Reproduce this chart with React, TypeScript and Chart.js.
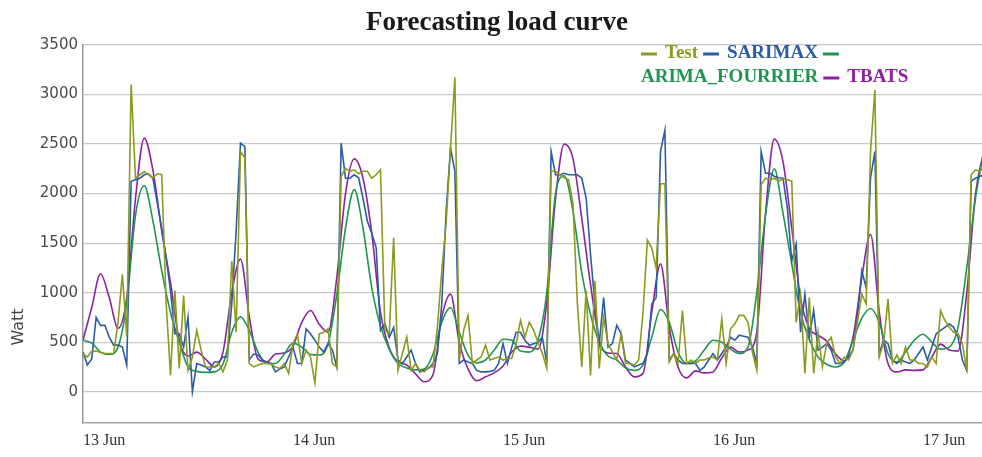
import React, { useEffect, useRef } from "react";
import { Chart, registerables } from "chart.js";

Chart.register(...registerables);

const chartTitle = "Forecasting load curve";
const yAxisTitle = "Watt";
const dayLabels = ["13 Jun", "14 Jun", "15 Jun", "16 Jun", "17 Jun"];
const dayTickHours = [0, 24, 48, 72, 96];
const yTickValues = [0, 500, 1000, 1500, 2000, 2500, 3000, 3500];
const seriesNames = ["Test", "SARIMAX", "ARIMA_FOURRIER", "TBATS"];
const seriesColors = ["#8c9a1e", "#2c5ba8", "#1e9652", "#8c22a0"];
const hoursShown = 102.74;
const yMin = -316;
const yMax = 3500;

// half-hourly values starting 13 Jun 00:00
const testValues = [
  385, 350, 410, 410, 395, 385, 385, 385, 700, 1185, 560, 3100,
  2155, 2190, 2220, 2190, 2160, 2200, 2190, 900, 165, 1020, 235, 970,
  215, 350, 620, 420, 250, 250, 250, 285, 200, 320, 1320, 600,
  2425, 2360, 285, 250, 270, 285, 285, 280, 250, 235, 285, 185,
  485, 585, 285, 420, 350, 90, 585, 600, 635, 285, 250, 2175,
  2255, 2225, 2240, 2200, 2225, 2225, 2155, 2190, 2240, 620, 585, 1555,
  215, 385, 550, 215, 285, 215, 200, 250, 250, 650, 1220, 1700,
  2460, 3175, 320, 620, 770, 285, 320, 350, 470, 320, 335, 350,
  320, 335, 335, 485, 720, 550, 700, 620, 500, 385, 235, 2225,
  2225, 2190, 2160, 2140, 1900, 885, 250, 1020, 165, 1120, 235, 750,
  485, 400, 320, 585, 285, 285, 270, 320, 800, 1530, 1450, 1250,
  2100, 2100, 300, 385, 285, 820, 285, 320, 285, 320, 320, 340,
  350, 320, 735, 285, 635, 685, 770, 770, 700, 400, 215, 2090,
  2155, 2140, 2155, 2125, 2150, 2140, 2125, 700, 985, 185, 950, 185,
  600, 250, 485, 550, 350, 285, 350, 320, 420, 700, 985, 885,
  2425, 3045, 350, 500, 935, 285, 370, 285, 450, 320, 320, 285,
  285, 250, 350, 285, 820, 720, 650, 600, 585, 485, 215, 2190,
  2240, 2225, 2260,
];

// half-hourly values
const sarimaxValues = [
  400, 270, 330, 750, 670, 670, 550, 470, 470, 450, 270, 2125,
  2140, 2155, 2190, 2200, 2150, 1900, 1650, 1350, 1020, 585, 585, 450,
  750, 0, 285, 270, 250, 215, 300, 300, 350, 350, 885, 1620,
  2510, 2475, 320, 380, 370, 320, 300, 285, 200, 230, 250, 350,
  450, 285, 285, 635, 585, 520, 450, 400, 485, 420, 250, 2510,
  2155, 2155, 2190, 2160, 1950, 1720, 1600, 1455, 620, 685, 550, 650,
  320, 285, 350, 420, 285, 200, 220, 235, 285, 385, 885, 1820,
  2460, 2225, 285, 320, 300, 285, 215, 200, 200, 205, 215, 285,
  485, 285, 450, 600, 600, 520, 470, 485, 500, 550, 285, 2425,
  2190, 2190, 2205, 2190, 2190, 2190, 2155, 1955, 1390, 885, 485, 950,
  450, 485, 670, 585, 320, 285, 250, 270, 285, 385, 885, 950,
  2425, 2640, 320, 385, 320, 285, 285, 285, 285, 215, 250, 320,
  385, 320, 385, 450, 550, 520, 570, 560, 550, 450, 285, 2425,
  2205, 2205, 2175, 2160, 2155, 1850, 1320, 1490, 600, 985, 550, 820,
  420, 450, 485, 420, 285, 285, 300, 350, 420, 750, 1220, 1050,
  2155, 2425, 385, 520, 485, 320, 285, 320, 300, 285, 320, 385,
  450, 320, 450, 585, 620, 650, 685, 650, 550, 320, 215, 2125,
  2155, 2175, 2190,
];

// hourly values
const arimaValues = [
  520, 490, 400, 375, 450, 900, 1780, 2080, 1720, 1220, 800, 500,
  250, 205, 195, 200, 280, 600, 755, 620, 400, 285, 285, 380,
  490, 450, 375, 370, 480, 980, 1650, 2040, 1650, 1050, 660, 430,
  285, 240, 220, 230, 380, 700, 850, 600, 370, 290, 320, 420,
  530, 520, 410, 400, 520, 1000, 2000, 2180, 1820, 1200, 780, 500,
  360, 320, 240, 215, 270, 550, 830, 700, 400, 285, 310, 420,
  520, 500, 430, 385, 450, 1000, 1780, 2250, 1800, 1290, 800, 530,
  350, 275, 250, 300, 520, 740, 840, 700, 385, 300, 400, 520,
  580, 500, 430, 450, 650, 1250, 1955, 2450,
];

// hourly values
const tbatsValues = [
  520, 850, 1190, 950, 640, 950, 1950, 2560, 2230, 1620, 1100, 520,
  360, 400, 330, 250, 400, 1000, 1340, 760, 330, 300, 380, 390,
  460, 700, 820, 680, 600, 1150, 2000, 2350, 2155, 1600, 800, 440,
  300, 270, 180, 100, 170, 750, 985, 500, 230, 110, 150, 190,
  260, 400, 460, 450, 430, 900, 1950, 2500, 2350, 1750, 1085, 520,
  390, 385, 250, 150, 185, 800, 1290, 650, 250, 140, 210, 190,
  200, 340, 450, 400, 420, 600, 1800, 2550, 2320, 1650, 950, 640,
  570, 510, 380, 310, 550, 1150, 1590, 800, 285, 200, 220, 215,
  220, 350, 480, 420, 410, 1000, 2000, 2450,
];

const toPoints = (vals: number[], step: number) => vals.map((v, i) => ({ x: i * step, y: v }));

const overlayPlugin = {
  id: "overlayText",
  afterDraw(chart: any) {
    const ctx = chart.ctx as CanvasRenderingContext2D;
    ctx.save();
    // title
    ctx.fillStyle = "#1a1a1a";
    ctx.font = 'bold 27px "Liberation Serif"';
    ctx.textAlign = "center";
    ctx.textBaseline = "alphabetic";
    ctx.fillText(chartTitle, 497, 30);

    // y axis title
    ctx.save();
    ctx.translate(19, 327);
    ctx.rotate(-Math.PI / 2);
    ctx.font = '16px "DejaVu Sans"';
    ctx.fillStyle = "#444";
    ctx.textAlign = "center";
    ctx.textBaseline = "middle";
    ctx.fillText(yAxisTitle, 0, 0);
    ctx.restore();

    // legend (flowing, wrapping)
    const startX = 641;
    const maxRight = 930;
    const rowH = 24;
    let x = startX;
    let y = 53;
    ctx.font = 'bold 19px "Liberation Serif"';
    ctx.textAlign = "left";
    ctx.textBaseline = "middle";
    chart.data.datasets.forEach((ds: any) => {
      const dashW = 16;
      if (x + dashW > maxRight) {
        x = startX;
        y += rowH;
      }
      ctx.fillStyle = ds.borderColor;
      ctx.fillRect(x, y - 0.5, dashW, 3);
      x += dashW + 8;
      const w = ctx.measureText(ds.label).width;
      if (x + w > maxRight) {
        x = startX;
        y += rowH;
      }
      ctx.fillText(ds.label, x, y);
      x += w + 5;
    });
    ctx.restore();
  },
};

export default function App() {
  const canvasRef = useRef<HTMLCanvasElement | null>(null);

  useEffect(() => {
    if (!canvasRef.current) return;
    const seriesData = [
      toPoints(testValues, 0.5),
      toPoints(sarimaxValues, 0.5),
      toPoints(arimaValues, 1),
      toPoints(tbatsValues, 1),
    ];
    const chart = new Chart(canvasRef.current, {
      type: "line",
      data: {
        datasets: seriesNames.map((name, i) => ({
          label: name,
          data: seriesData[i],
          borderColor: seriesColors[i],
          backgroundColor: seriesColors[i],
          borderWidth: 1.6,
          pointRadius: 0,
          fill: false,
          tension: 0,
          cubicInterpolationMode: i >= 2 ? "monotone" : "default",
        })),
      },
      options: {
        responsive: false,
        animation: false,
        layout: { padding: { top: 45, left: 0, right: 0, bottom: 0 } },
        plugins: {
          legend: { display: false },
          title: { display: false },
          tooltip: { enabled: false },
        },
        scales: {
          x: {
            type: "linear",
            min: 0,
            max: hoursShown,
            afterBuildTicks: (s: any) => {
              s.ticks = dayTickHours.map((v) => ({ value: v }));
            },
            afterFit: (s: any) => {
              s.height = 34;
            },
            grid: { display: false, drawTicks: false },
            border: { display: true, color: "#a8a8a8", width: 1.5 },
            ticks: {
              autoSkip: false,
              maxRotation: 0,
              align: "start",
              padding: 8,
              color: "#333",
              font: { family: "Liberation Serif", size: 16 },
              callback: (v: any) => dayLabels[dayTickHours.indexOf(Number(v))] ?? "",
            },
          },
          y: {
            min: yMin,
            max: yMax,
            afterBuildTicks: (s: any) => {
              s.ticks = yTickValues.map((v) => ({ value: v }));
            },
            afterFit: (s: any) => {
              s.width = 83;
            },
            grid: { color: "#c8c8c8", lineWidth: 1.2, drawTicks: false },
            border: { display: true, color: "#999", width: 1.5 },
            ticks: {
              padding: 5,
              color: "#4a4a4a",
              font: { family: "DejaVu Sans", size: 15 },
              callback: (v: any) => String(v),
            },
          },
        },
      },
      plugins: [overlayPlugin],
    } as any);
    return () => chart.destroy();
  }, []);

  return (
    <div style={{ position: "absolute", left: 0, top: 0, width: 982, height: 457, background: "#fff" }}>
      <canvas ref={canvasRef} width={982} height={457} style={{ display: "block" }} />
    </div>
  );
}
